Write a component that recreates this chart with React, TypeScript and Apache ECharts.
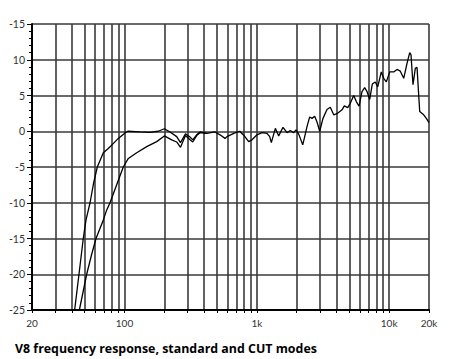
import React, { useEffect, useRef } from "react";
import * as echarts from "echarts";

// Frequency (Hz) / level (dB) pairs
const standardFreq = [42.0, 45.3, 48.8, 51.2, 54.9, 58.5, 62.3, 69.2, 75.4, 82.5, 89.8, 101.5, 106, 131, 155.9, 180, 200, 220.7, 248, 265, 289, 312.6, 327.8, 351, 372, 418, 483, 527, 575, 595, 669, 742, 796, 868, 919, 1003, 1094, 1194, 1251, 1287, 1380, 1463, 1577, 1691, 1790, 1899, 1977, 2072, 2222, 2300, 2394, 2509, 2612, 2737, 2850, 2986, 3162, 3390, 3590, 3811, 4034, 4403, 4581, 4861, 5087, 5395, 5646, 5918, 6233, 6533, 6801, 7129, 7458, 7858, 8194, 8723, 9095, 9518, 10098, 10823, 11462, 12141, 12882, 13643, 14298, 14622, 15141, 15758, 16234, 17016, 18240, 19090, 20000];
const standardDb = [-25, -20, -15, -12.4, -10, -7.2, -5, -3.0, -2.4, -1.7, -1.0, -0.2, 0, -0.1, -0.15, 0, 0.35, -0.1, -0.75, -1.6, -0.35, -0.8, -1.2, -0.5, -0.1, -0.3, -0.1, -0.5, -1.0, -0.75, -0.3, 0, -0.55, -1.45, -1.2, -0.5, -0.2, -0.3, -0.75, -1.6, 0.4, -0.65, 0.55, -0.2, 0.1, -0.2, 0.2, -0.4, -1.9, -0.75, 0.65, 2.0, 1.8, 2.1, 1.3, 0, 1.8, 3.05, 3.35, 2.3, 2.45, 3.0, 3.55, 3.3, 3.9, 5.0, 4.15, 3.5, 5.55, 6.1, 5.55, 4.45, 6.6, 6.9, 6.2, 8.3, 7.4, 6.9, 8.3, 8.3, 8.65, 8.4, 7.4, 9.5, 11.0, 10.7, 6.5, 8.8, 8.95, 2.75, 2.3, 1.8, 1.2];

const cutFreq = [45.6, 51.8, 56.5, 60.9, 69.2, 73.4, 77.7, 88, 97.9, 106.9, 123.7, 147.2, 175.1, 200, 227.4, 248, 265, 289, 312.6, 327.8, 351, 372, 418];
const cutDb = [-25, -20, -17.2, -15, -12.4, -11, -10, -7.3, -5, -3.8, -3.0, -2.15, -1.45, -0.65, -1.2, -1.5, -2.25, -0.6, -1.2, -1.5, -0.6, -0.2, -0.3];

const gridFreqs = [20, 30, 40, 50, 60, 70, 80, 90, 100, 200, 300, 400, 500, 600, 700, 800, 900, 1000, 2000, 3000, 4000, 5000, 6000, 7000, 8000, 9000, 10000, 20000];
const labelFreqs = [20, 100, 1000, 10000, 20000];
const labelText = ["20", "100", "1k", "10k", "20k"];

const yTopLabel = "-15";
const titleText = "V8 frequency response, standard and CUT modes";

export default function App() {
  const ref = useRef<HTMLDivElement>(null);
  useEffect(() => {
    if (!ref.current) return;
    const chart = echarts.init(ref.current, undefined, { renderer: "svg" });
    const lineColor = "#3a3a3a";
    chart.setOption({
      animation: false,
      backgroundColor: "#fff",
      title: {
        text: titleText,
        left: 10,
        top: 337,
        textStyle: { fontFamily: "Open Sans", fontWeight: "bold", fontSize: 12.4, color: "#000" },
      },
      grid: { left: 32, right: 25, top: 24, bottom: 49 },
      xAxis: {
        type: "log",
        logBase: 10,
        min: 20,
        max: 20000,
        axisLine: { show: true, onZero: false, lineStyle: { color: "#000", width: 2 } },
        axisTick: { show: true, length: 3, customValues: gridFreqs, lineStyle: { color: "#000", width: 1 } },
        minorTick: { show: false },
        splitLine: { show: true, lineStyle: { color: lineColor, width: 1.6 } },
        axisLabel: {
          customValues: labelFreqs,
          margin: 8,
          fontFamily: "Lato",
          fontSize: 10,
          color: "#333",
          formatter: (v: number) => {
            const i = labelFreqs.findIndex((f) => Math.abs(f - v) < 1e-6 * f);
            return i >= 0 ? labelText[i] : "";
          },
        },
      },
      yAxis: {
        type: "value",
        min: -25,
        max: 15,
        interval: 5,
        axisLine: { show: true, onZero: false, lineStyle: { color: "#000", width: 2 } },
        axisTick: { show: true, length: 5, lineStyle: { color: "#000" } },
        minorTick: { show: true, splitNumber: 5, length: 3, lineStyle: { color: "#000" } },
        splitLine: { show: true, lineStyle: { color: lineColor, width: 1.6 } },
        axisLabel: {
          margin: 7,
          fontFamily: "Lato",
          fontSize: 10.5,
          color: "#333",
          formatter: (v: number) => (v === 15 ? yTopLabel : String(v)),
        },
      },
      series: [
        {
          type: "line",
          name: "standard",
          data: standardFreq.map((f, i) => [f, standardDb[i]]),
          showSymbol: false,
          lineStyle: { color: "#000", width: 1.3 },
          z: 5,
        },
        {
          type: "line",
          name: "CUT",
          data: cutFreq.map((f, i) => [f, cutDb[i]]),
          showSymbol: false,
          lineStyle: { color: "#000", width: 1.3 },
          z: 5,
        },
      ],
    });
    return () => chart.dispose();
  }, []);
  return <div ref={ref} style={{ width: 454, height: 359, position: "absolute", left: 0, top: 0 }} />;
}
